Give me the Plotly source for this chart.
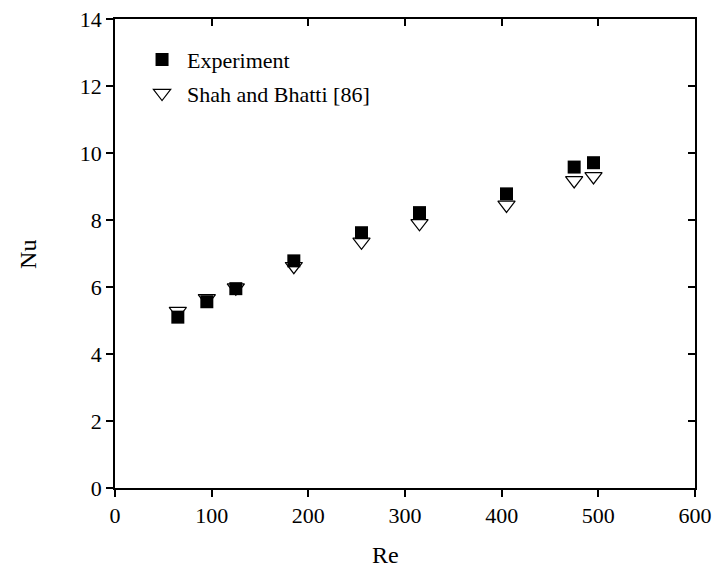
import plotly.graph_objects as go

re_vals = [65, 95, 125, 185, 255, 315, 405, 475, 495]
nu_experiment = [5.1, 5.56, 5.95, 6.78, 7.62, 8.22, 8.78, 9.58, 9.71]
nu_shah_bhatti = [5.28, 5.66, 5.98, 6.62, 7.35, 7.9, 8.45, 9.18, 9.3]

x_ticks = [0, 100, 200, 300, 400, 500, 600]
y_ticks = [0, 2, 4, 6, 8, 10, 12, 14]

FONT = "Times New Roman, Liberation Serif, serif"

fig = go.Figure()

# triangles first so squares overlay them
fig.add_trace(go.Scatter(
    x=re_vals, y=nu_shah_bhatti, mode="markers", name="Shah and Bhatti [86]",
    marker=dict(symbol="triangle-down", size=15, color="white",
                line=dict(color="black", width=1.2)),
    legendrank=2, legendgroup="b"))
fig.add_trace(go.Scatter(
    x=re_vals, y=nu_experiment, mode="markers", name="Experiment",
    marker=dict(symbol="square", size=13, color="black",
                line=dict(color="black", width=0)),
    legendrank=1, legendgroup="a"))
# invisible trace to activate mirrored axes
fig.add_trace(go.Scatter(x=[None], y=[None], xaxis="x2", yaxis="y2",
                         showlegend=False, hoverinfo="skip"))

axis_common = dict(showline=True, linecolor="black", linewidth=1.5,
                   showgrid=False, zeroline=False, ticklen=7, tickwidth=1.5,
                   tickcolor="black", automargin=False,
                   tickfont=dict(family=FONT, size=22, color="black"))

fig.update_layout(
    template="none",
    width=717, height=576,
    margin=dict(l=115, r=22, t=19, b=88, autoexpand=False),
    font=dict(family=FONT, color="black"),
    plot_bgcolor="white", paper_bgcolor="white",
    showlegend=True,
    legend=dict(x=0.038, y=0.958, xanchor="left", yanchor="top",
                traceorder="grouped", tracegroupgap=2,
                font=dict(family=FONT, size=22, color="black"),
                bgcolor="rgba(0,0,0,0)", itemwidth=40),
    xaxis=dict(range=[0, 600], tickvals=x_ticks, ticks="outside", **axis_common),
    yaxis=dict(range=[0, 14], tickvals=y_ticks, ticks="outside", **axis_common),
    xaxis2=dict(range=[0, 600], tickvals=x_ticks, ticks="inside", overlaying="x",
                side="top", showticklabels=False, **axis_common),
    yaxis2=dict(range=[0, 14], tickvals=y_ticks, ticks="inside", overlaying="y",
                side="right", showticklabels=False, **axis_common),
    annotations=[
        dict(text="Nu", x=-0.15, y=0.497, xref="paper", yref="paper",
             xanchor="center", yanchor="middle",
             showarrow=False, textangle=-90,
             font=dict(family=FONT, size=24, color="black")),
        dict(text="Re", x=0.466, y=-0.143, xref="paper", yref="paper",
             xanchor="center", yanchor="middle",
             showarrow=False, font=dict(family=FONT, size=24, color="black")),
    ],
)

fig.write_html("out.html")
